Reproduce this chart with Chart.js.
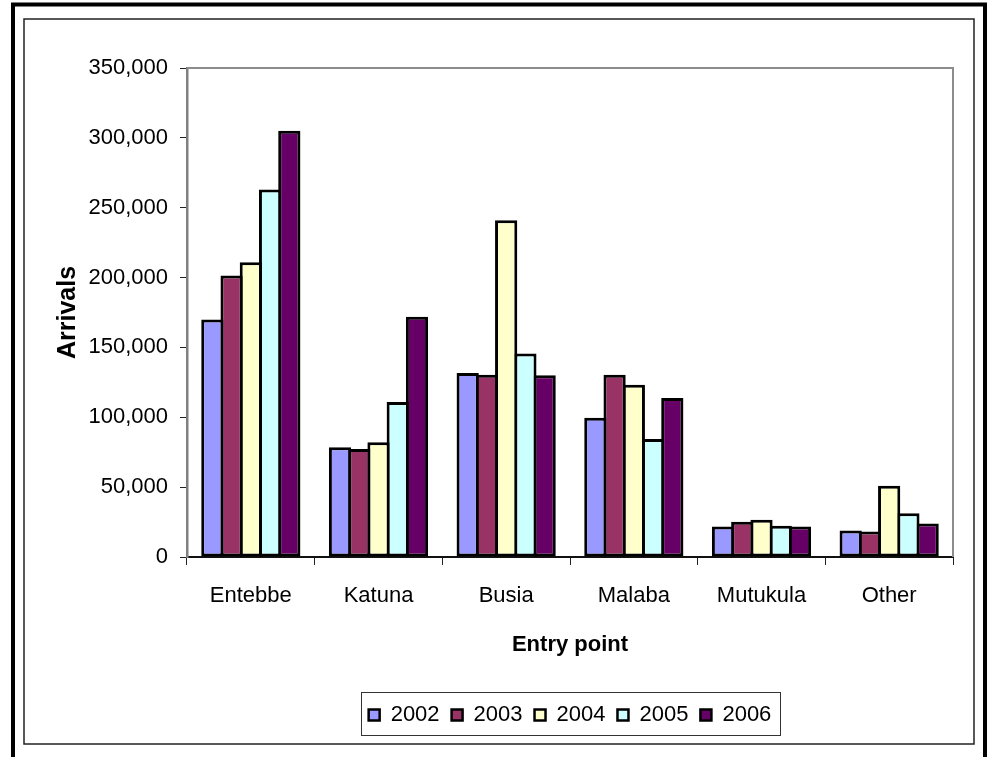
<!DOCTYPE html>
<html><head><meta charset="utf-8">
<script src="https://cdn.jsdelivr.net/npm/chart.js@4.4.1/dist/chart.umd.min.js"></script>
<style>html,body{margin:0;padding:0;background:#fff;}</style>
</head><body>
<canvas id="c" width="991" height="757" style="display:block;width:991px;height:757px"></canvas>
<script>
const categories = ['Entebbe', 'Katuna', 'Busia', 'Malaba', 'Mutukula', 'Other'];
const years = ['2002', '2003', '2004', '2005', '2006'];
const arrivals2002 = [170000, 78500, 131700, 99600, 21800, 18900];
const arrivals2003 = [201500, 77300, 130500, 130500, 25200, 18200];
const arrivals2004 = [211000, 82100, 241000, 123300, 26600, 51000];
const arrivals2005 = [263000, 110900, 145600, 84500, 22300, 31300];
const arrivals2006 = [305000, 172000, 130000, 113800, 21800, 23900];
const yTickValues = [0, 50000, 100000, 150000, 200000, 250000, 300000, 350000];
const seriesColors = ['#9999FF', '#993366', '#FFFFCC', '#CCFFFF', '#660066'];
const seriesValues = [arrivals2002, arrivals2003, arrivals2004, arrivals2005, arrivals2006];

const FONT = '"Liberation Sans", Arial, sans-serif';

const framePlugin = {
  id: 'frame',
  beforeDraw(chart) {
    const ctx = chart.ctx;
    ctx.save();
    ctx.fillStyle = '#fff';
    ctx.fillRect(0, 0, chart.width, chart.height);
    ctx.restore();
  },
  afterDraw(chart) {
    const ctx = chart.ctx;
    const a = chart.chartArea;
    ctx.save();
    // outer thick frame
    ctx.strokeStyle = '#000';
    ctx.lineWidth = 4;
    ctx.strokeRect(13, 4.5, 972, 800);
    // inner thin frame
    ctx.strokeStyle = '#222';
    ctx.lineWidth = 1.5;
    ctx.strokeRect(24, 19, 950, 725);
    // plot area top/right border
    ctx.strokeStyle = '#8c8c8c';
    ctx.lineWidth = 2;
    ctx.beginPath();
    ctx.moveTo(a.left, a.top);
    ctx.lineTo(a.right, a.top);
    ctx.lineTo(a.right, a.bottom);
    ctx.stroke();
    // legend box
    const lg = chart.legend;
    if (lg && lg.legendHitBoxes && lg.legendHitBoxes.length) {
      const hb = lg.legendHitBoxes;
      const l = hb[0].left - 8;
      const r = hb[hb.length - 1].left + hb[hb.length - 1].width + 8;
      ctx.strokeStyle = '#333';
      ctx.lineWidth = 1;
      ctx.strokeRect(Math.round(l) + 0.5, 692.5, Math.round(r - l), 43);
    }
    ctx.restore();
  }
};

new Chart(document.getElementById('c'), {
  type: 'bar',
  data: {
    labels: categories,
    datasets: years.map((y, i) => ({
      label: y,
      data: seriesValues[i],
      backgroundColor: seriesColors[i],
      borderColor: '#000',
      borderWidth: 3,
      borderSkipped: false,
      categoryPercentage: 0.7535,
      barPercentage: 1.156
    }))
  },
  options: {
    responsive: false,
    animation: false,
    events: [],
    layout: { padding: { left: 53, top: 68, right: 38, bottom: 21 } },
    plugins: {
      tooltip: { enabled: false },
      legend: {
        position: 'bottom',
        fullSize: false,
        labels: {
          font: { family: FONT, size: 22 },
          color: '#000',
          boxWidth: 11,
          boxHeight: 11,
          padding: 12,
          generateLabels(chart) {
            return Chart.defaults.plugins.legend.labels.generateLabels(chart).map(l => Object.assign(l, { lineWidth: 2.5 }));
          }
        }
      }
    },
    scales: {
      x: {
        grid: { display: true, drawOnChartArea: false, offset: true, tickLength: 8, color: '#222', lineWidth: 1 },
        border: { display: true, color: '#111', width: 2 },
        ticks: { font: { family: FONT, size: 22 }, color: '#000', padding: 18, maxRotation: 0 },
        title: { display: true, text: 'Entry point', font: { family: FONT, size: 22, weight: 'bold' }, color: '#000', padding: { top: 0, bottom: 34 } },
        afterFit(scale) { scale.height = 135; }
      },
      y: {
        min: 0,
        max: 350000,
        afterBuildTicks(scale) { scale.ticks = yTickValues.map(v => ({ value: v })); },
        grid: { display: true, drawOnChartArea: false, tickLength: 7, color: '#222', lineWidth: 1 },
        border: { display: true, color: '#808080', width: 2.5 },
        ticks: {
          font: { family: FONT, size: 22 }, color: '#000', padding: 12,
          callback: v => v.toLocaleString('en-US')
        },
        title: { display: true, text: 'Arrivals', font: { family: FONT, size: 25, weight: 'bold' }, color: '#000', padding: { top: 0, bottom: 0 } },
        afterFit(scale) { scale.width = 134; }
      }
    }
  },
  plugins: [framePlugin]
});
</script>
</body></html>
